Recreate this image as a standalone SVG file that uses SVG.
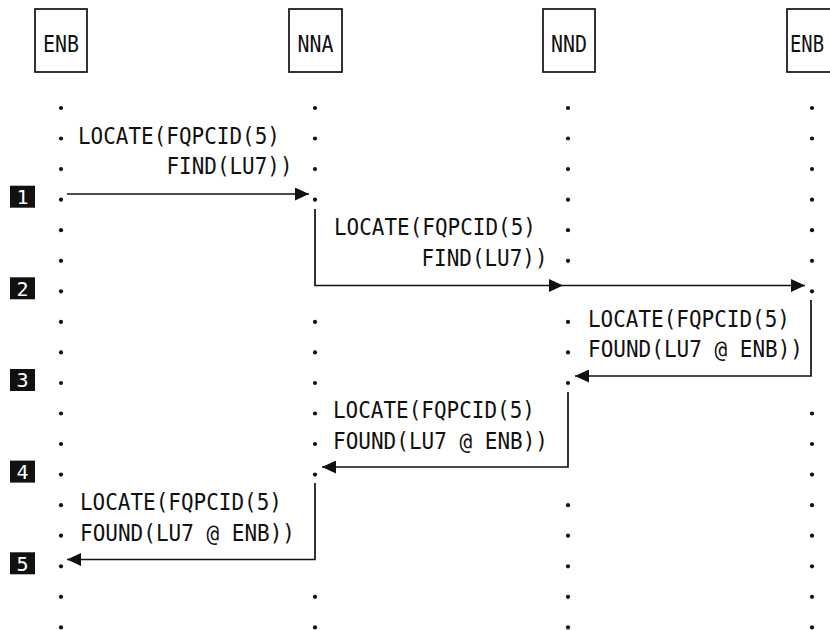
<svg xmlns="http://www.w3.org/2000/svg" width="830" height="630" viewBox="0 0 830 630">
<style>
.bg{fill:#fff}
.node rect{fill:#fff;stroke:#111;stroke-width:1.7}
.node text{font-family:"DejaVu Sans Mono","Liberation Mono",monospace;font-size:23px;fill:#111;text-anchor:middle}
.lbl{font-family:"DejaVu Sans Mono","Liberation Mono",monospace;font-size:22.5px;fill:#111}
.dots circle{fill:#111}
.conn path{fill:none;stroke:#111;stroke-width:1.7}
.step rect{fill:#111}
.step text{font-family:"DejaVu Sans Mono","Liberation Mono",monospace;font-size:20px;fill:#fff;text-anchor:middle}
</style>
<defs>
<marker id="ah" markerUnits="userSpaceOnUse" markerWidth="15" markerHeight="13" refX="14" refY="6.5" orient="auto">
<path d="M0,0 L14,6.5 L0,13 z" fill="#111"/>
</marker>
</defs>
<rect class="bg" x="0" y="0" width="830" height="630"/>

<g id="node-enb-left" class="node"><rect x="35" y="9" width="52" height="63"/><text x="61" y="52" textLength="36" lengthAdjust="spacingAndGlyphs">ENB</text></g>
<g id="node-nna" class="node"><rect x="289" y="9" width="53" height="63"/><text x="315.5" y="52" textLength="36" lengthAdjust="spacingAndGlyphs">NNA</text></g>
<g id="node-nnd" class="node"><rect x="543" y="9" width="52" height="63"/><text x="569" y="52" textLength="36" lengthAdjust="spacingAndGlyphs">NND</text></g>
<g id="node-enb-right" class="node"><rect x="787" y="9" width="54" height="63"/><text x="807" y="52" textLength="34" lengthAdjust="spacingAndGlyphs">ENB</text></g>

<g id="lifelines" class="dots">
<circle cx="61" cy="108" r="2.1"/><circle cx="61" cy="138.5" r="2.1"/><circle cx="61" cy="169.1" r="2.1"/><circle cx="61" cy="199.7" r="2.1"/><circle cx="61" cy="230.2" r="2.1"/><circle cx="61" cy="260.8" r="2.1"/><circle cx="61" cy="291.3" r="2.1"/><circle cx="61" cy="321.9" r="2.1"/><circle cx="61" cy="352.4" r="2.1"/><circle cx="61" cy="383" r="2.1"/><circle cx="61" cy="413.5" r="2.1"/><circle cx="61" cy="444" r="2.1"/><circle cx="61" cy="474.6" r="2.1"/><circle cx="61" cy="505.2" r="2.1"/><circle cx="61" cy="535.7" r="2.1"/><circle cx="61" cy="566.3" r="2.1"/><circle cx="61" cy="596.8" r="2.1"/><circle cx="61" cy="627.4" r="2.1"/>
<circle cx="315" cy="108" r="2.1"/><circle cx="315" cy="138.5" r="2.1"/><circle cx="315" cy="169.1" r="2.1"/><circle cx="315" cy="199.7" r="2.1"/><circle cx="315" cy="321.9" r="2.1"/><circle cx="315" cy="352.4" r="2.1"/><circle cx="315" cy="383" r="2.1"/><circle cx="315" cy="413.5" r="2.1"/><circle cx="315" cy="444" r="2.1"/><circle cx="315" cy="474.6" r="2.1"/><circle cx="315" cy="596.8" r="2.1"/><circle cx="315" cy="627.4" r="2.1"/>
<circle cx="568" cy="108" r="2.1"/><circle cx="568" cy="138.5" r="2.1"/><circle cx="568" cy="169.1" r="2.1"/><circle cx="568" cy="199.7" r="2.1"/><circle cx="568" cy="230.2" r="2.1"/><circle cx="568" cy="260.8" r="2.1"/><circle cx="568" cy="321.9" r="2.1"/><circle cx="568" cy="352.4" r="2.1"/><circle cx="568" cy="383" r="2.1"/><circle cx="568" cy="505.2" r="2.1"/><circle cx="568" cy="535.7" r="2.1"/><circle cx="568" cy="566.3" r="2.1"/><circle cx="568" cy="596.8" r="2.1"/><circle cx="568" cy="627.4" r="2.1"/>
<circle cx="812" cy="108" r="2.1"/><circle cx="812" cy="138.5" r="2.1"/><circle cx="812" cy="169.1" r="2.1"/><circle cx="812" cy="199.7" r="2.1"/><circle cx="812" cy="230.2" r="2.1"/><circle cx="812" cy="260.8" r="2.1"/><circle cx="812" cy="291.3" r="2.1"/><circle cx="812" cy="413.5" r="2.1"/><circle cx="812" cy="444" r="2.1"/><circle cx="812" cy="474.6" r="2.1"/><circle cx="812" cy="505.2" r="2.1"/><circle cx="812" cy="535.7" r="2.1"/><circle cx="812" cy="566.3" r="2.1"/><circle cx="812" cy="596.8" r="2.1"/><circle cx="812" cy="627.4" r="2.1"/>
</g>

<g id="connectors" class="conn">
<path d="M67,194 H309" marker-end="url(#ah)"/>
<path d="M315,209 V285.5 H563" marker-end="url(#ah)"/>
<path d="M563,285.5 H805" marker-end="url(#ah)"/>
<path d="M811,300 V376 H575" marker-end="url(#ah)"/>
<path d="M568,392 V467 H322" marker-end="url(#ah)"/>
<path d="M315,483 V559.5 H67" marker-end="url(#ah)"/>
</g>

<g id="labels">
<text class="lbl" x="78" y="143.5" textLength="202" lengthAdjust="spacingAndGlyphs">LOCATE(FQPCID(5)</text>
<text class="lbl" x="166.5" y="174" textLength="126" lengthAdjust="spacingAndGlyphs">FIND(LU7))</text>
<text class="lbl" x="334" y="235" textLength="202" lengthAdjust="spacingAndGlyphs">LOCATE(FQPCID(5)</text>
<text class="lbl" x="421.5" y="265.6" textLength="126" lengthAdjust="spacingAndGlyphs">FIND(LU7))</text>
<text class="lbl" x="588" y="326.7" textLength="202" lengthAdjust="spacingAndGlyphs">LOCATE(FQPCID(5)</text>
<text class="lbl" x="588" y="357.2" textLength="215" lengthAdjust="spacingAndGlyphs">FOUND(LU7 @ ENB))</text>
<text class="lbl" x="333" y="418.3" textLength="202" lengthAdjust="spacingAndGlyphs">LOCATE(FQPCID(5)</text>
<text class="lbl" x="333" y="448.8" textLength="215" lengthAdjust="spacingAndGlyphs">FOUND(LU7 @ ENB))</text>
<text class="lbl" x="80" y="510" textLength="202" lengthAdjust="spacingAndGlyphs">LOCATE(FQPCID(5)</text>
<text class="lbl" x="80" y="540.5" textLength="215" lengthAdjust="spacingAndGlyphs">FOUND(LU7 @ ENB))</text>
</g>

<g id="steps" class="step">
<g id="step1"><rect x="10" y="185.7" width="25" height="22"/><text x="22.5" y="204">1</text></g>
<g id="step2"><rect x="10" y="277.3" width="25" height="22"/><text x="22.5" y="295.6">2</text></g>
<g id="step3"><rect x="10" y="369" width="25" height="22"/><text x="22.5" y="387.3">3</text></g>
<g id="step4"><rect x="10" y="460.6" width="25" height="22"/><text x="22.5" y="478.9">4</text></g>
<g id="step5"><rect x="10" y="552.3" width="25" height="22"/><text x="22.5" y="570.6">5</text></g>
</g>
</svg>
